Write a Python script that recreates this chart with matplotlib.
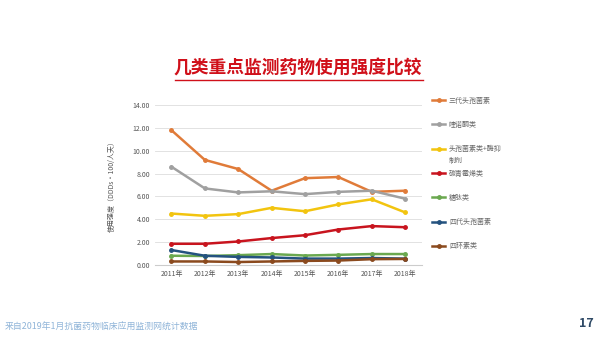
import matplotlib.pyplot as plt

plt.rcParams['font.family'] = ['Noto Sans CJK SC', 'DejaVu Sans']

years = ['2011年', '2012年', '2013年', '2014年', '2015年', '2016年', '2017年', '2018年']
names = ['三代头孢菌素', '喹诺酮类', '头孢菌素类+酶抑', '碳青霉烯类', '糖肽类', '四代头孢菌素', '四环素类']
cef3 = [11.8, 9.2, 8.4, 6.5, 7.6, 7.7, 6.4, 6.5]
quin = [8.6, 6.7, 6.35, 6.45, 6.2, 6.4, 6.5, 5.8]
cef_inh = [4.5, 4.3, 4.45, 5.0, 4.7, 5.3, 5.75, 4.6]
carb = [1.85, 1.85, 2.05, 2.35, 2.6, 3.1, 3.4, 3.3]
glyco = [0.8, 0.78, 0.85, 0.95, 0.82, 0.88, 0.95, 0.95]
cef4 = [1.3, 0.8, 0.7, 0.65, 0.55, 0.55, 0.6, 0.55]
tetra = [0.3, 0.3, 0.25, 0.3, 0.35, 0.38, 0.5, 0.52]
series = [cef3, quin, cef_inh, carb, glyco, cef4, tetra]
colors = ['#E07B39', '#A0A0A0', '#F2C40F', '#C8141E', '#6AA84F', '#24527F', '#8B4A1E']

fig = plt.figure(figsize=(6, 3.37), dpi=100)
ax = fig.add_axes([0.258, 0.214, 0.445, 0.474])

x = range(len(years))
handles = []
for vals, c, n in zip(series, colors, names):
    h, = ax.plot(x, vals, color=c, lw=1.8, marker='o', ms=2.5, label=n)
    handles.append(h)

ax.set_xlim(-0.5, len(years) - 0.5)
ax.set_ylim(0, 14)
ax.set_yticks(range(0, 15, 2))
ax.set_yticklabels(['%.2f' % v for v in range(0, 15, 2)])
ax.set_xticks(list(x))
ax.set_xticklabels(years)
ax.tick_params(labelsize=5, colors='#555555', length=0)
ax.grid(axis='y', color='#DDDDDD', lw=0.6)
ax.set_axisbelow(True)
for s in ['top', 'right', 'left']:
    ax.spines[s].set_visible(False)
ax.spines['bottom'].set_color('#CCCCCC')
ax.set_ylabel('使用强度（DDDs・100/人天）', fontsize=5, color='#555555', labelpad=12)

leg = fig.legend(handles=handles, loc='upper left', bbox_to_anchor=(0.71, 0.732),
                 frameon=False, fontsize=5, labelcolor='#666666', handlelength=1.8,
                 labelspacing=2.35, handletextpad=0.6)

# second line of the long legend label
fig.canvas.draw()
bb = leg.get_texts()[2].get_window_extent().transformed(fig.transFigure.inverted())
fig.text(bb.x0, bb.y0 - 0.012, '制剂', fontsize=5, color='#666666', ha='left', va='top')

fig.text(0.497, 0.798, '几类重点监测药物使用强度比较', color='#D0101A', fontsize=12.8,
         fontweight='bold', ha='center', va='center')
fig.add_artist(plt.Line2D([0.292, 0.705], [0.764, 0.764], color='#D0101A', lw=1))

fig.text(0.008, 0.03, '来自2019年1月抗菌药物临床应用监测网统计数据', color='#8FB4D8',
         fontsize=6.4, ha='left', va='center')
fig.text(0.99, 0.04, '17', color='#2F4A66', fontsize=9, fontweight='bold', ha='right', va='center')

fig.savefig('out.png', dpi=100)
